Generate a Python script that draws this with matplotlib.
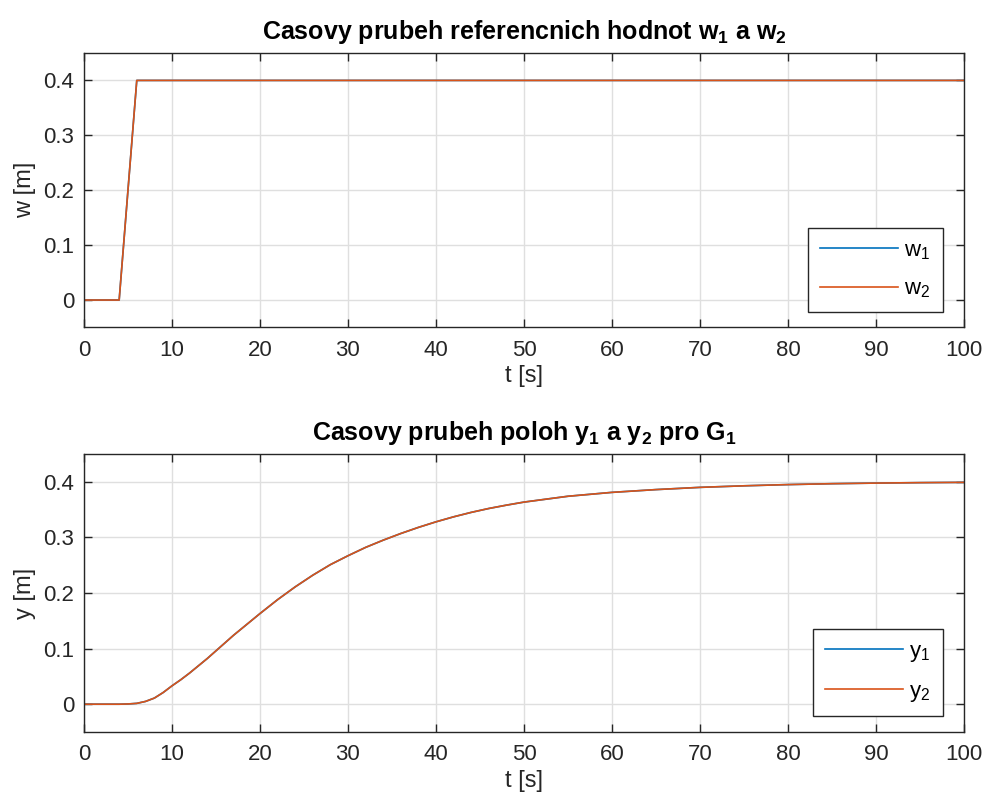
#!/usr/bin/env python3
"""Reference values w1, w2 and positions y1, y2 for G1 over time."""
import matplotlib
matplotlib.use("Agg")
import matplotlib.pyplot as plt

# reference signals: hold, ramp 4..6 s, then constant
t_ref = [0, 4, 6, 100]
w1 = [0.0, 0.0, 0.4, 0.4]
w2 = [0.0, 0.0, 0.4, 0.4]

# position response
t_pos = [0, 4, 5, 6, 7, 8, 9, 10, 11, 12, 13, 14, 15, 16, 17, 18, 19, 20,
         22, 24, 26, 28, 30, 32, 34, 36, 38, 40, 42, 44, 46, 48, 50,
         55, 60, 65, 70, 75, 80, 85, 90, 95, 100]
y1 = [0.0, 0.0, 0.0004, 0.0015, 0.005, 0.011, 0.021, 0.033, 0.044, 0.056,
      0.069, 0.082, 0.096, 0.110, 0.124, 0.137, 0.150, 0.163,
      0.188, 0.211, 0.232, 0.251, 0.267, 0.282, 0.295, 0.307, 0.318,
      0.328, 0.337, 0.345, 0.352, 0.358, 0.3635,
      0.374, 0.381, 0.386, 0.390, 0.3928, 0.3950, 0.3966, 0.3977, 0.3985,
      0.3990]
y2 = list(y1)

x_ticks = list(range(0, 101, 10))
y_ticks = [0, 0.1, 0.2, 0.3, 0.4]

BLUE = "#0072BD"
ORANGE = "#D95319"
AXC = "#262626"

plt.rcParams["font.family"] = ["Liberation Sans", "DejaVu Sans"]
plt.rcParams["mathtext.fontset"] = "custom"
plt.rcParams["mathtext.rm"] = "Liberation Sans"
plt.rcParams["mathtext.bf"] = "Liberation Sans:bold"
plt.rcParams["mathtext.default"] = "rm"

fig = plt.figure(figsize=(9.89, 8.10), dpi=100)
ax1 = fig.add_axes([0.0849, 0.5957, 0.8898, 0.3389])
ax2 = fig.add_axes([0.0849, 0.0963, 0.8898, 0.3432])


def style(ax, ylabel, title):
    ax.set_xlim(0, 100)
    ax.set_ylim(-0.05, 0.45)
    ax.set_xticks(x_ticks)
    ax.set_yticks(y_ticks)
    ax.set_yticklabels(["0", "0.1", "0.2", "0.3", "0.4"])
    ax.grid(True, color="#DFDFDF", linewidth=1.0)
    ax.set_axisbelow(True)
    for s in ax.spines.values():
        s.set_color(AXC)
        s.set_linewidth(1.0)
    ax.tick_params(direction="in", length=6, width=1.0, colors=AXC,
                   labelsize=16, top=True, right=True)
    ax.tick_params(axis="x", pad=9)
    ax.tick_params(axis="y", pad=7)
    ax.set_xlabel("t [s]", fontsize=17, color=AXC, labelpad=3)
    ax.set_ylabel(ylabel, fontsize=17, color=AXC, labelpad=5)
    ax.set_title(title, fontsize=18, fontweight="bold", pad=10)


ax1.plot(t_ref, w1, color=BLUE, lw=1.2, label="w$_1$")
ax1.plot(t_ref, w2, color=ORANGE, lw=1.2, label="w$_2$")
style(ax1, "w [m]",
      r"Casovy prubeh referencnich hodnot w$_\mathbf{1}$ a w$_\mathbf{2}$")

ax2.plot(t_pos, y1, color=BLUE, lw=1.2, label="y$_1$")
ax2.plot(t_pos, y2, color=ORANGE, lw=1.2, label="y$_2$")
style(ax2, "y [m]",
      r"Casovy prubeh poloh y$_\mathbf{1}$ a y$_\mathbf{2}$ pro G$_\mathbf{1}$")

for ax, anchor in ((ax1, (0.976, 0.056)), (ax2, (0.976, 0.058))):
    leg = ax.legend(loc="lower right", bbox_to_anchor=anchor, fontsize=16,
                    fancybox=False, framealpha=1, edgecolor=AXC,
                    handlelength=3.5, handletextpad=0.3, borderpad=0.55,
                    labelspacing=0.75, borderaxespad=0)
    leg.get_frame().set_linewidth(1.0)

fig.savefig("out.png", dpi=100)
